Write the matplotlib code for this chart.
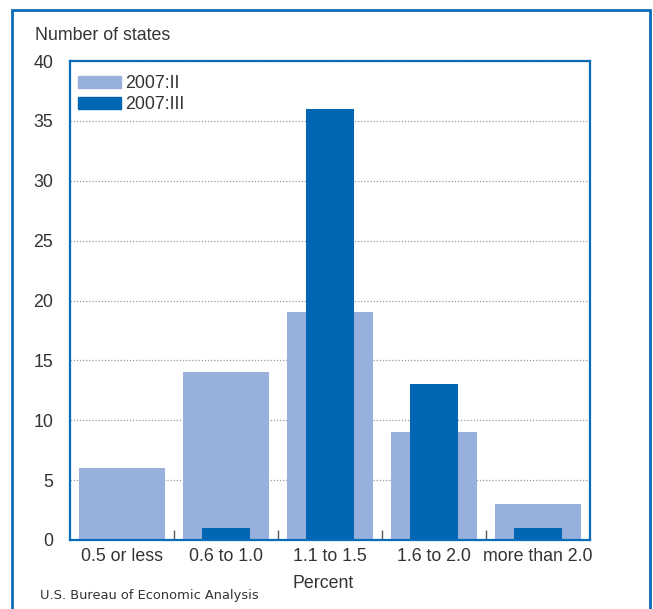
import matplotlib.pyplot as plt
from matplotlib.patches import Rectangle, Patch
from matplotlib import font_manager

# Data
categories = ['0.5 or less', '0.6 to 1.0', '1.1 to 1.5', '1.6 to 2.0', 'more than 2.0']
q2_values = [6, 14, 19, 9, 3]
q3_values = [0, 1, 36, 13, 1]
y_ticks = [0, 5, 10, 15, 20, 25, 30, 35, 40]

LIGHT = '#97b1dc'
DARK = '#0066b3'
FRAME = '#0a6cb8'
TEXT = '#333333'

plt.rcParams['font.family'] = ['Liberation Sans', 'DejaVu Sans']

W, H = 653, 609
fig = plt.figure(figsize=(W / 100, H / 100), dpi=100)

# outer frame (bottom runs off the image)
fig.patches.append(Rectangle((12 / W, -0.05), (650 - 12) / W, 1.05 - 10 / H,
                             transform=fig.transFigure, fill=False,
                             edgecolor=FRAME, linewidth=2.0))

left, right, top, bottom = 70, 590, 61, 540
ax = fig.add_axes([left / W, 1 - bottom / H, (right - left) / W, (bottom - top) / H])

x = list(range(len(categories)))
ax.bar(x, q2_values, width=0.82, color=LIGHT, zorder=2, label='2007:II')
ax.bar(x, q3_values, width=0.46, color=DARK, zorder=3, label='2007:III')

ax.set_xlim(-0.5, len(categories) - 0.5)
ax.set_ylim(0, 40)
ax.set_yticks(y_ticks)
ax.set_yticklabels([str(v) for v in y_ticks], fontsize=12.8, color=TEXT)
ax.tick_params(axis='y', length=0, pad=12)

ax.set_xticks(x)
ax.set_xticklabels(categories, fontsize=12.8, color=TEXT)
ax.tick_params(axis='x', which='major', length=0, pad=6)
ax.set_xticks([i + 0.5 for i in x[:-1]], minor=True)
ax.tick_params(axis='x', which='minor', direction='in', length=7, width=1, color='#555555')

ax.set_axisbelow(True)
ax.yaxis.grid(True, linestyle=(0, (1, 1.5)), color='#999999', linewidth=0.9, zorder=0)

for s in ax.spines.values():
    s.set_color(FRAME)
    s.set_linewidth(1.6)
    s.set_zorder(5)

handles = [Patch(color=LIGHT, label='2007:II'), Patch(color=DARK, label='2007:III')]
ax.legend(handles=handles, loc='upper left', bbox_to_anchor=(78 / W, 1 - 75 / H),
          bbox_transform=fig.transFigure, frameon=False, borderpad=0, borderaxespad=0,
          fontsize=12.8, handlelength=2.4, handleheight=0.7, handletextpad=0.25,
          labelspacing=0.25, labelcolor=TEXT)

fig.text(35 / W, 1 - 35 / H, 'Number of states', fontsize=12.8, color=TEXT,
         ha='left', va='center')
fig.text(323 / W, 1 - 583 / H, 'Percent', fontsize=12.8, color=TEXT,
         ha='center', va='center')

narrow = 'Liberation Sans Narrow'
names = {f.name for f in font_manager.fontManager.ttflist}
if narrow in names:
    src_family, src_size = [narrow, 'DejaVu Sans'], 10.5
else:
    src_family, src_size = ['DejaVu Sans'], 9.4
fig.text(40 / W, 1 - 595 / H, 'U.S. Bureau of Economic Analysis', fontsize=src_size,
         color=TEXT, ha='left', va='center', family=src_family)

fig.savefig('out.png', dpi=100)
